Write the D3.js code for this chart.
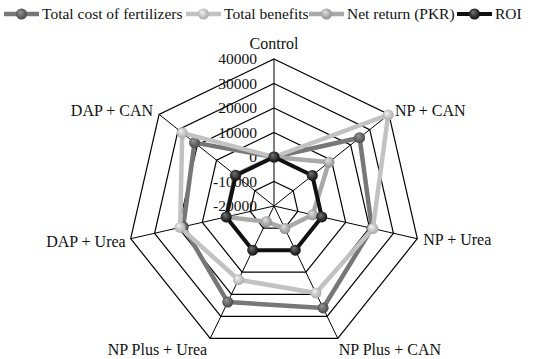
<!DOCTYPE html>
<html>
<head>
<meta charset="utf-8">
<script src="https://cdn.jsdelivr.net/npm/d3@7"></script>
<style>
  body { margin: 0; background: #fff; }
</style>
</head>
<body>
<div id="chart"></div>
<script>
// axes (clockwise from top)
var treatments = ["Control", "NP + CAN", "NP + Urea", "NP Plus + CAN", "NP Plus + Urea", "DAP + Urea", "DAP + CAN"];
var ticks = [-20000, -10000, 0, 10000, 20000, 30000, 40000];

// values
var totalCost = [0, 24700, 21000, 26200, 23500, 18000, 21500];
var totalBenefits = [0, 39600, 21400, 19400, 13400, 19300, 27900];
var netReturn = [0, 8700, -3800, -9800, -12900, 0, 300];
var roi = [0, 1.8, 1.2, 0.9, 0.6, -0.8, 1.5];

var series = [
    {name: "Total cost of fertilizers", values: totalCost, line: "#777", dark: "#3c3c3c", light: "#9a9a9a", width: 4.5},
    {name: "Total benefits", values: totalBenefits, line: "#c2c2c2", dark: "#a0a0a0", light: "#f4f4f4", width: 4.5},
    {name: "Net return (PKR)", values: netReturn, line: "#a9a9a9", dark: "#858585", light: "#e2e2e2", width: 4.5},
    {name: "ROI", values: roi, line: "#111", dark: "#000", light: "#777", width: 4}
];

var FONT = "Liberation Serif";
var width = 550, height = 359;
var cx = 274, cy = 206, radius = 147;

var svg = d3.select("#chart").append("svg")
    .attr("width", width)
    .attr("height", height);

var defs = svg.append("defs");
series.forEach(function (s, i) {
    var g = defs.append("radialGradient")
        .attr("id", "ball" + i)
        .attr("cx", "50%").attr("cy", "50%")
        .attr("fx", "35%").attr("fy", "30%")
        .attr("r", "60%");
    g.append("stop").attr("offset", "0%").attr("stop-color", s.light);
    g.append("stop").attr("offset", "100%").attr("stop-color", s.dark);
});

var r = d3.scaleLinear().domain([-20000, 40000]).range([0, radius]);
var angle = function (i) { return i * 2 * Math.PI / treatments.length; };
var px = function (i, v) { return cx + r(v) * Math.sin(angle(i)); };
var py = function (i, v) { return cy - r(v) * Math.cos(angle(i)); };

var grid = svg.append("g");

// rings
ticks.slice(1).forEach(function (t) {
    grid.append("path")
        .attr("d", d3.line()(treatments.map(function (d, i) { return [px(i, t), py(i, t)]; })) + "Z")
        .attr("fill", "none")
        .attr("stroke", "#000")
        .attr("stroke-width", 1.2);
});

// spokes
treatments.forEach(function (d, i) {
    grid.append("line")
        .attr("x1", cx).attr("y1", cy)
        .attr("x2", px(i, 40000)).attr("y2", py(i, 40000))
        .attr("stroke", "#000")
        .attr("stroke-width", 1);
});

// tick labels
grid.selectAll(".tick")
    .data(ticks)
    .enter().append("text")
    .attr("x", cx - 17)
    .attr("y", function (t) { return py(0, t); })
    .attr("dy", "0.35em")
    .attr("text-anchor", "end")
    .attr("font-family", FONT)
    .attr("font-size", 15.5)
    .attr("fill", "#111")
    .text(function (t) { return t; });

// axis labels
var labelPos = [
    {dx: 0, dy: -10, anchor: "middle"},
    {dx: 6, dy: 2, anchor: "start"},
    {dx: 6, dy: 6, anchor: "start"},
    {dx: 1, dy: 17, anchor: "start"},
    {dx: -3, dy: 17, anchor: "end"},
    {dx: -5, dy: 8, anchor: "end"},
    {dx: -6, dy: 2, anchor: "end"}
];
grid.selectAll(".axis-label")
    .data(treatments)
    .enter().append("text")
    .attr("x", function (d, i) { return px(i, 40000) + labelPos[i].dx; })
    .attr("y", function (d, i) { return py(i, 40000) + labelPos[i].dy; })
    .attr("text-anchor", function (d, i) { return labelPos[i].anchor; })
    .attr("font-family", FONT)
    .attr("font-size", 16)
    .attr("fill", "#111")
    .text(function (d) { return d; });

// series
var line = d3.line().curve(d3.curveLinearClosed);
series.forEach(function (s, k) {
    var pts = s.values.map(function (v, i) { return [px(i, v), py(i, v)]; });
    svg.append("path")
        .attr("d", line(pts))
        .attr("fill", "none")
        .attr("stroke", s.line)
        .attr("stroke-width", s.width)
        .attr("stroke-linejoin", "round");
    svg.selectAll(".m" + k)
        .data(pts)
        .enter().append("circle")
        .attr("cx", function (d) { return d[0]; })
        .attr("cy", function (d) { return d[1]; })
        .attr("r", 5.5)
        .attr("fill", "url(#ball" + k + ")");
});

// legend
var legendX = [4, 186, 309, 457];
var legend = svg.selectAll(".legend")
    .data(series)
    .enter().append("g")
    .attr("transform", function (d, i) { return "translate(" + legendX[i] + ",14)"; });
legend.append("line")
    .attr("x1", 0).attr("x2", 35)
    .attr("stroke", function (d) { return d.line; })
    .attr("stroke-width", function (d) { return d.width; });
legend.append("circle")
    .attr("cx", 17.5)
    .attr("r", 5.5)
    .attr("fill", function (d, i) { return "url(#ball" + i + ")"; });
legend.append("text")
    .attr("x", 38)
    .attr("dy", "0.35em")
    .attr("font-family", FONT)
    .attr("font-size", 15.5)
    .attr("fill", "#111")
    .text(function (d) { return d.name; });
</script>
</body>
</html>
